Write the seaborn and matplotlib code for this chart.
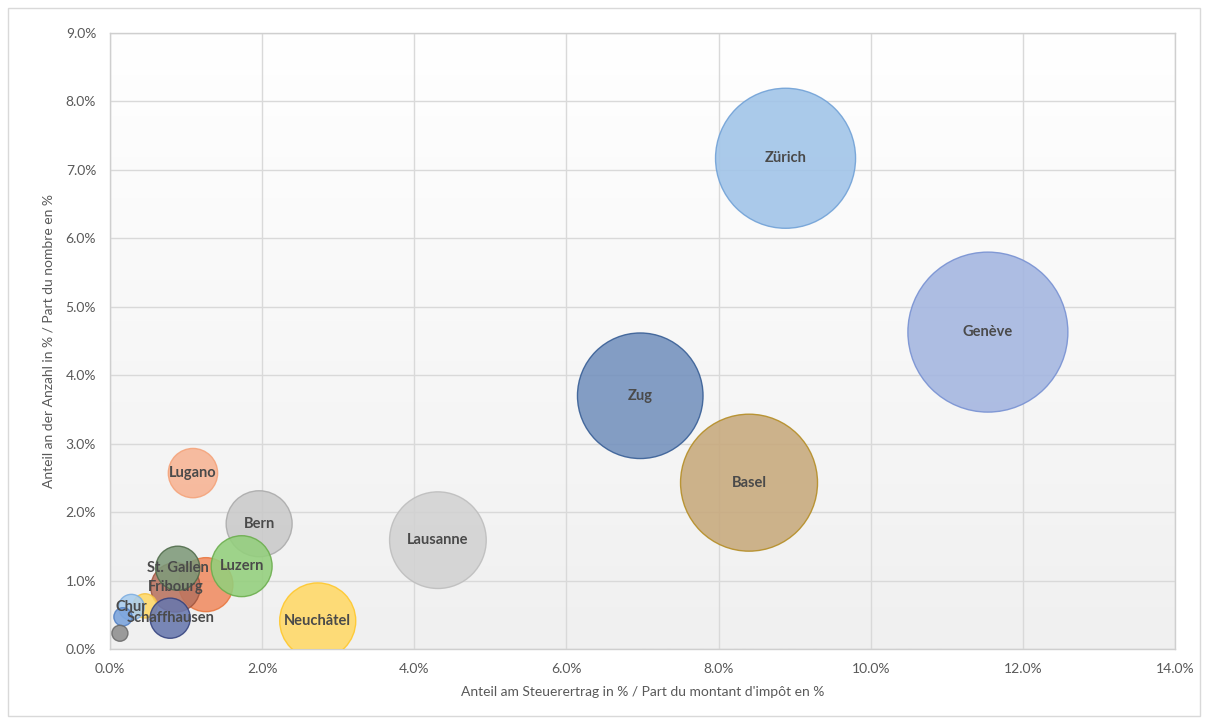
import numpy as np
import pandas as pd
import matplotlib.pyplot as plt
from matplotlib.colors import LinearSegmentedColormap
from matplotlib.patches import Rectangle
from matplotlib.ticker import FuncFormatter, MultipleLocator
import seaborn as sns

sns.set_theme(style="white")
plt.rcParams['font.family'] = ['Lato', 'DejaVu Sans']

# Data (x: share of tax yield, y: share of count, size: bubble weight)
cities = ["Genève", "Zürich", "Basel", "Zug", "Lausanne", "Neuchâtel", "Bern",
          "Lugano", "Fribourg_o", "Luzern", "Fribourg", "St. Gallen", "Chur_y",
          "Chur", "Schaffhausen", "Chur_b", "Kl"]
labels = ["Genève", "Zürich", "Basel", "Zug", "Lausanne", "Neuchâtel", "Bern",
          "Lugano", "", "Luzern", "Fribourg", "St. Gallen", "",
          "Chur", "Schaffhausen", "", ""]
tax_share = [11.54, 8.88, 8.40, 6.97, 4.31, 2.73, 1.96,
             1.09, 1.26, 1.73, 0.86, 0.89, 0.46,
             0.28, 0.79, 0.17, 0.13]
count_share = [4.63, 7.17, 2.43, 3.70, 1.59, 0.41, 1.83,
               2.57, 0.94, 1.21, 0.90, 1.18, 0.63,
               0.61, 0.45, 0.47, 0.23]
bubble_size = [10.0, 7.66, 7.33, 6.16, 3.65, 2.26, 1.70,
               0.95, 1.14, 1.45, 0.95, 0.76, 0.23,
               0.26, 0.63, 0.13, 0.10]
face_colors = ["#a3b5e0", "#9fc3e8", "#c7a97c", "#7391bd", "#d2d2d2", "#ffd966", "#cacaca",
               "#f7b393", "#f08c62", "#93cf7c", "#b9735f", "#7e9a79", "#ffd966",
               "#a9cdee", "#6877ad", "#7aa3dc", "#8e8e8e"]
edge_colors = ["#7690d2", "#6fa0d6", "#b48c22", "#355c94", "#bdbdbd", "#ffc729", "#aaaaaa",
               "#f4a37a", "#e9773f", "#6aad4c", "#a0553f", "#4f6b4a", "#f5c242",
               "#7eaee0", "#34427e", "#5280c4", "#6a6a6a"]

df = pd.DataFrame({"city": cities, "tax": tax_share, "count": count_share,
                   "size": bubble_size})

fig = plt.figure(figsize=(12.08, 7.24), dpi=100)
ax = fig.add_axes([0.0911, 0.1036, 0.8816, 0.8508])

# soft plot area gradient: white at the top, light gray at the bottom
grad = np.linspace(0, 1, 256).reshape(-1, 1)
bg = LinearSegmentedColormap.from_list("bg", ["#f0f0f0", "#ffffff"])
ax.imshow(grad, extent=[0, 14, 0, 9], aspect='auto', cmap=bg, zorder=0, origin='lower')

# marker area in pt^2 proportional to bubble_size (Genève r=80px)
max_area = (2 * 80 * 0.72) ** 2
sns.scatterplot(data=df, x="tax", y="count", hue="city", size="size",
                palette=dict(zip(cities, face_colors)),
                sizes=(0, max_area), size_norm=(0, 10),
                edgecolor=edge_colors, linewidth=1.0, alpha=0.88,
                legend=False, ax=ax, zorder=3, clip_on=True)

for lab, x, y in zip(labels, tax_share, count_share):
    if lab:
        ax.text(x, y, lab, ha='center', va='center', fontsize=10.5,
                fontweight='bold', color='#4a4a4a', zorder=5)

ax.set_xlim(0, 14)
ax.set_ylim(0, 9)
ax.xaxis.set_major_locator(MultipleLocator(2))
ax.yaxis.set_major_locator(MultipleLocator(1))
pct = FuncFormatter(lambda v, p: f"{v:.1f}%")
ax.xaxis.set_major_formatter(pct)
ax.yaxis.set_major_formatter(pct)
ax.tick_params(axis='both', labelsize=10, colors='#595959', length=0, pad=10)
ax.grid(True, color='#d9d9d9', linewidth=1)
ax.set_axisbelow(True)
for s in ax.spines.values():
    s.set_color('#cfcfcf')
    s.set_linewidth(1)

ax.set_xlabel("Anteil am Steuerertrag in % / Part du montant d'impôt en %",
              fontsize=10, color='#595959', labelpad=8)
ax.set_ylabel("Anteil an der Anzahl in % / Part du nombre en %",
              fontsize=10, color='#595959', labelpad=8)

fig.patches.append(Rectangle((0.007, 0.011), 0.986, 0.978, transform=fig.transFigure,
                             fill=False, edgecolor='#d9d9d9', linewidth=1))

fig.savefig("out.png", dpi=100, facecolor='white')
